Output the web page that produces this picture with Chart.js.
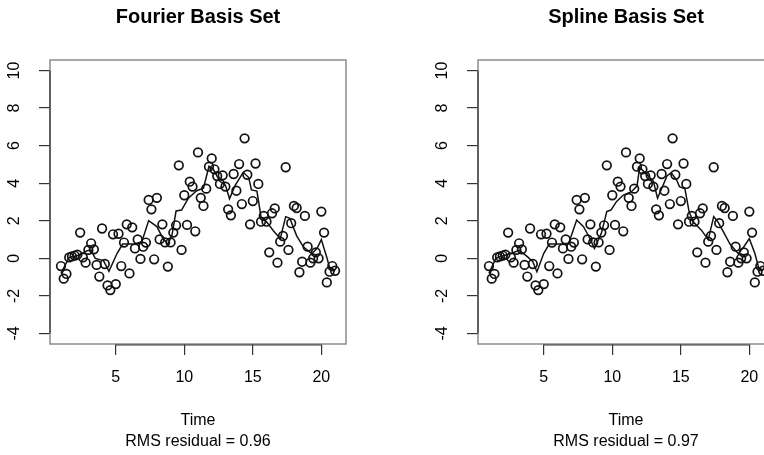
<!DOCTYPE html>
<html>
<head>
<meta charset="utf-8">
<script src="https://cdn.jsdelivr.net/npm/chart.js@4.4.1/dist/chart.umd.min.js"></script>
<style>
  html, body { margin: 0; padding: 0; background: #fff; width: 764px; height: 455px; overflow: hidden; }
  #left { position: absolute; left: 0; top: 0; }
  #right { position: absolute; left: 382px; top: 0; }
</style>
</head>
<body>
<canvas id="left" width="382" height="455"></canvas>
<canvas id="right" width="420" height="455"></canvas>
<script>
// observation times and noisy observations (shared by both panels)
const times = [1.0, 1.2, 1.4, 1.6, 1.8, 2.0, 2.2, 2.4, 2.6, 2.8,
  3.0, 3.2, 3.4, 3.6, 3.8, 4.0, 4.2, 4.4, 4.6, 4.8,
  5.0, 5.2, 5.4, 5.6, 5.8, 6.0, 6.2, 6.4, 6.6, 6.8,
  7.0, 7.2, 7.4, 7.6, 7.8, 8.0, 8.2, 8.4, 8.6, 8.8,
  9.0, 9.2, 9.4, 9.6, 9.8, 10.0, 10.2, 10.4, 10.6, 10.8,
  11.0, 11.2, 11.4, 11.6, 11.8, 12.0, 12.2, 12.4, 12.6, 12.8,
  13.0, 13.2, 13.4, 13.6, 13.8, 14.0, 14.2, 14.4, 14.6, 14.8,
  15.0, 15.2, 15.4, 15.6, 15.8, 16.0, 16.2, 16.4, 16.6, 16.8,
  17.0, 17.2, 17.4, 17.6, 17.8, 18.0, 18.2, 18.4, 18.6, 18.8,
  19.0, 19.2, 19.4, 19.6, 19.8, 20.0, 20.2, 20.4, 20.6, 20.8,
  21.0];
const observed = [-0.41, -1.08, -0.83, 0.05, 0.10, 0.15, 0.20, 1.37, 0.05, -0.23,
  0.45, 0.80, 0.48, -0.35, -0.97, 1.59, -0.30, -1.44, -1.69, 1.28,
  -1.37, 1.31, -0.41, 0.84, 1.81, -0.80, 1.65, 0.53, 1.01, -0.03,
  0.62, 0.84, 3.11, 2.61, -0.05, 3.22, 1.01, 1.81, 0.85, -0.44,
  0.85, 1.37, 1.76, 4.95, 0.45, 3.36, 1.78, 4.08, 3.82, 1.44,
  5.64, 3.22, 2.79, 3.71, 4.88, 5.32, 4.74, 4.38, 3.96, 4.42,
  3.82, 2.61, 2.29, 4.49, 3.60, 5.02, 2.89, 6.39, 4.45, 1.81,
  3.05, 5.05, 3.96, 1.95, 2.26, 1.95, 0.32, 2.40, 2.66, -0.23,
  0.89, 1.19, 4.85, 0.45, 1.87, 2.79, 2.68, -0.74, -0.18, 2.26,
  0.62, -0.23, 0.00, 0.32, 0.00, 2.49, 1.37, -1.28, -0.71, -0.41,
  -0.66];

// fitted curves (vertices)
const fourierT = [1.0, 1.4, 1.6, 2.4, 2.9, 3.2, 3.5, 4.1, 4.5, 5.1, 5.5, 6.4, 6.9, 7.4, 8.0, 8.4, 8.8, 9.1, 9.4, 9.8,
  10.3, 10.9, 11.4, 11.8, 12.1, 12.6, 13.0, 13.3, 13.7, 14.3, 14.7, 14.9, 15.3, 15.6, 16.0, 16.5, 17.0, 17.4, 17.7,
  18.2, 18.7, 19.3, 19.7, 20.0, 20.4, 20.6, 21.0];
const fourierV = [-0.80, -0.23, 0.05, 0.18, 0.41, 0.44, 0.00, -0.12, -0.69, 0.27, 0.76, 0.76, 0.89, 2.01, 1.69, 1.12, 0.74, 1.24, 2.52, 2.57,
  3.20, 3.60, 3.73, 4.90, 4.75, 4.10, 3.90, 3.17, 3.87, 4.58, 4.30, 3.64, 3.58, 2.20, 1.95, 1.47, 1.05, 2.22, 2.13,
  1.20, 0.60, 0.25, 0.55, 1.00, 0.05, -0.50, -0.68];
const splineT = [1.0, 1.5, 1.8, 2.7, 3.2, 3.8, 4.2, 4.5, 5.0, 5.4, 6.8, 7.4, 7.9, 8.3, 8.7, 9.2, 9.6, 9.9, 10.3, 10.8,
  11.4, 11.8, 12.0, 12.4, 13.0, 13.3, 14.0, 14.3, 14.7, 14.9, 15.3, 15.6, 15.9, 16.5, 17.0, 17.4, 17.7, 18.1, 18.6,
  19.2, 19.6, 20.0, 20.4, 20.7, 21.0];
const splineV = [-0.80, 0.00, 0.09, 0.27, 0.44, 0.09, -0.18, -0.71, 0.27, 0.76, 0.76, 2.04, 1.69, 1.15, 0.53, 1.33, 2.49, 2.57, 3.02, 3.37,
  3.55, 3.85, 4.85, 4.55, 4.10, 3.20, 4.40, 4.55, 4.17, 3.82, 3.70, 2.50, 1.95, 1.50, 1.00, 2.22, 1.95, 1.42, 0.75,
  0.25, 0.62, 1.05, 0.27, -0.55, -0.65];

const xTicks = [5, 10, 15, 20];
const yTicks = [-4, -2, 0, 2, 4, 6, 8, 10];

Chart.defaults.font.family = "'Liberation Sans', Arial, sans-serif";
Chart.defaults.color = '#000';

// R-style box plus axis lines spanning first..last tick
const rBox = {
  id: 'rBox',
  afterDraw(chart) {
    const { ctx, chartArea: a, scales: { x, y } } = chart;
    ctx.save();
    ctx.strokeStyle = '#8c8c8c';
    ctx.lineWidth = 1.5;
    ctx.strokeRect(a.left, a.top, a.right - a.left, a.bottom - a.top);
    ctx.strokeStyle = '#333';
    ctx.lineWidth = 1.2;
    ctx.beginPath();
    ctx.moveTo(a.left, y.getPixelForValue(yTicks[0]));
    ctx.lineTo(a.left, y.getPixelForValue(yTicks[yTicks.length - 1]));
    ctx.moveTo(x.getPixelForValue(xTicks[0]), a.bottom + 1);
    ctx.lineTo(x.getPixelForValue(xTicks[xTicks.length - 1]), a.bottom + 1);
    ctx.stroke();
    ctx.restore();
  }
};

function makePanel(id, title, rms, fitT, fitV, axisWidth, padRight) {
  new Chart(document.getElementById(id), {
    type: 'scatter',
    data: {
      datasets: [
        {
          data: times.map((t, i) => ({ x: t, y: observed[i] })),
          pointStyle: 'circle',
          pointRadius: 4.3,
          pointBorderWidth: 1.7,
          pointBorderColor: '#111',
          pointBackgroundColor: 'rgba(0,0,0,0)'
        },
        {
          type: 'line',
          data: fitT.map((t, i) => ({ x: t, y: fitV[i] })),
          borderColor: '#111',
          borderWidth: 1.5,
          pointRadius: 0,
          tension: 0,
          fill: false
        }
      ]
    },
    options: {
      responsive: false,
      animation: false,
      layout: { padding: { left: 0, right: padRight, top: 0, bottom: 0 } },
      plugins: {
        legend: { display: false },
        tooltip: { enabled: false },
        title: {
          display: true,
          text: title,
          fullSize: false,
          color: '#000',
          font: { size: 20, weight: 'bold', lineHeight: 1.2 },
          padding: { top: 5.5, bottom: 30.5 }
        }
      },
      scales: {
        x: {
          type: 'linear',
          min: 0.2,
          max: 21.8,
          afterBuildTicks: s => { s.ticks = xTicks.map(v => ({ value: v })); },
          afterFit: s => { s.height = 111; },
          border: { display: false },
          grid: { drawOnChartArea: false, drawTicks: true, tickLength: 11, color: '#333', lineWidth: 1.2 },
          ticks: { font: { size: 16 }, padding: 13, maxRotation: 0, autoSkip: false },
          title: {
            display: true,
            text: ['Time', 'RMS residual = ' + rms],
            font: { size: 16, lineHeight: 1.3 },
            padding: { top: 0, bottom: 2.9 }
          }
        },
        y: {
          type: 'linear',
          min: -4.56,
          max: 10.56,
          afterBuildTicks: s => { s.ticks = yTicks.map(v => ({ value: v })); },
          afterFit: s => { s.width = axisWidth; },
          border: { display: false },
          grid: { drawOnChartArea: false, drawTicks: true, tickLength: 11, color: '#333', lineWidth: 1.2 },
          ticks: { font: { size: 16 }, padding: 16, minRotation: 90, maxRotation: 90, crossAlign: 'center', autoSkip: false }
        }
      }
    },
    plugins: [rBox]
  });
}

makePanel('left', 'Fourier Basis Set', '0.96', fourierT, fourierV, 50, 36);
makePanel('right', 'Spline Basis Set', '0.97', splineT, splineV, 96, 28);
</script>
</body>
</html>
